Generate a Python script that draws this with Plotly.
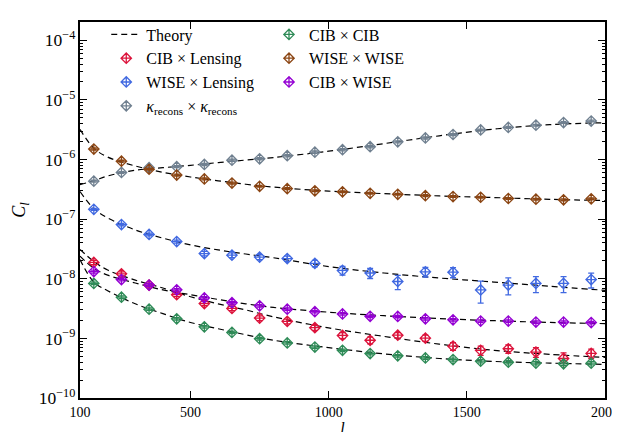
import plotly.graph_objects as go

# multipole bins
ell = [150, 250, 350, 450, 550, 650, 750, 850, 950, 1050,
       1150, 1250, 1350, 1450, 1550, 1650, 1750, 1850, 1950]

cib_lens = [1.88e-8, 1.21e-8, 7.85e-9, 5.41e-9, 3.83e-9, 3.18e-9, 2.19e-9, 1.93e-9, 1.51e-9, 1.12e-9,
            9.3e-10, 1.13e-9, 1.01e-9, 7.4e-10, 6.3e-10, 6.7e-10, 5.9e-10, 4.6e-10, 5.6e-10]
cib_lens_err = [1.5e-9, 1.0e-9, 6e-10, 4e-10, 3e-10, 2.5e-10, 2e-10, 1.8e-10, 1.5e-10, 1.3e-10,
                1.2e-10, 1.2e-10, 1.2e-10, 1.1e-10, 1.1e-10, 1.1e-10, 1.1e-10, 1.1e-10, 1.0e-10]

wise_lens = [1.46e-7, 8.11e-8, 5.53e-8, 4.20e-8, 2.65e-8, 2.49e-8, 2.31e-8, 2.18e-8, 1.81e-8, 1.38e-8,
             1.25e-8, 9.0e-9, 1.31e-8, 1.29e-8, 6.5e-9, 7.85e-9, 8.36e-9, 8.36e-9, 9.7e-9]
wise_lens_err = [6e-9, 4e-9, 3e-9, 2.5e-9, 2.2e-9, 2.2e-9, 2.2e-9, 2.2e-9, 2.2e-9, 2.3e-9,
                 2.4e-9, 2.4e-9, 2.4e-9, 2.5e-9, 2.6e-9, 2.5e-9, 2.5e-9, 2.5e-9, 2.7e-9]

kappa = [4.34e-7, 6.07e-7, 7.31e-7, 7.59e-7, 8.26e-7, 9.74e-7, 1.03e-6, 1.16e-6, 1.33e-6, 1.46e-6,
         1.64e-6, 1.98e-6, 2.30e-6, 2.63e-6, 3.13e-6, 3.46e-6, 3.77e-6, 4.17e-6, 4.42e-6]
kappa_err = [1.5e-8, 2e-8, 2.5e-8, 3e-8, 3.5e-8, 4e-8, 4.5e-8, 5e-8, 6e-8, 6.5e-8,
             7e-8, 8e-8, 9e-8, 1e-7, 1.1e-7, 1.2e-7, 1.3e-7, 1.4e-7, 1.5e-7]

cib_cib = [8.36e-9, 4.91e-9, 3.09e-9, 2.13e-9, 1.56e-9, 1.26e-9, 9.89e-10, 8.39e-10, 7.15e-10, 6.32e-10,
           5.57e-10, 5.11e-10, 4.69e-10, 4.41e-10, 4.14e-10, 3.98e-10, 3.84e-10, 3.75e-10, 3.84e-10]
cib_cib_err = [4e-10, 2.5e-10, 1.5e-10, 1e-10, 7e-11, 6e-11, 5e-11, 4e-11, 3.5e-11, 3e-11,
               3e-11, 2.5e-11, 2.5e-11, 2.5e-11, 2.5e-11, 2.5e-11, 2.5e-11, 2.5e-11, 2.5e-11]

wise_wise = [1.50e-6, 9.37e-7, 6.87e-7, 5.49e-7, 4.73e-7, 4.03e-7, 3.56e-7, 3.25e-7, 2.99e-7, 2.88e-7,
             2.71e-7, 2.61e-7, 2.48e-7, 2.39e-7, 2.33e-7, 2.22e-7, 2.16e-7, 2.11e-7, 2.19e-7]
wise_wise_err = [6e-8, 3.5e-8, 2.5e-8, 2e-8, 1.7e-8, 1.4e-8, 1.2e-8, 1.1e-8, 1.0e-8, 1.0e-8,
                 9e-9, 9e-9, 8.5e-9, 8e-9, 8e-9, 8e-9, 7.5e-9, 7.5e-9, 7.5e-9]

cib_wise = [1.32e-8, 9.7e-9, 7.85e-9, 6.52e-9, 4.78e-9, 3.97e-9, 3.51e-9, 3.09e-9, 2.81e-9, 2.57e-9,
            2.35e-9, 2.33e-9, 2.13e-9, 2.05e-9, 1.95e-9, 1.95e-9, 1.88e-9, 1.88e-9, 1.84e-9]
cib_wise_err = [8e-10, 5e-10, 4e-10, 3e-10, 2.5e-10, 2e-10, 1.7e-10, 1.5e-10, 1.3e-10, 1.2e-10,
                1.1e-10, 1.1e-10, 1e-10, 1e-10, 9e-11, 9e-11, 9e-11, 9e-11, 9e-11]

# theory curves
ell_th = [100, 150, 200, 300, 400, 500, 600, 700, 800, 1000, 1200, 1400, 1600, 1800, 2000]
th_kappa = [3.8e-7, 4.4e-7, 5.3e-7, 6.6e-7, 7.3e-7, 8.0e-7, 8.9e-7, 9.8e-7, 1.08e-6, 1.38e-6,
            1.85e-6, 2.5e-6, 3.25e-6, 3.85e-6, 4.15e-6]
th_wise_wise = [3.2e-6, 1.55e-6, 1.1e-6, 7.8e-7, 6.1e-7, 5.1e-7, 4.4e-7, 3.85e-7, 3.45e-7, 2.95e-7,
                2.68e-7, 2.45e-7, 2.3e-7, 2.15e-7, 2.05e-7]
th_wise_lens = [2.9e-7, 1.5e-7, 1.05e-7, 6.6e-8, 4.8e-8, 3.7e-8, 3.05e-8, 2.6e-8, 2.25e-8, 1.6e-8,
                1.25e-8, 1.03e-8, 8.8e-9, 7.5e-9, 6.4e-9]
th_cib_lens = [3.1e-8, 1.95e-8, 1.4e-8, 9.5e-9, 7.0e-9, 5.0e-9, 3.8e-9, 3.0e-9, 2.3e-9, 1.5e-9,
               1.08e-9, 8.0e-10, 6.3e-10, 5.4e-10, 4.8e-10]
th_cib_wise = [2.4e-8, 1.5e-8, 1.15e-8, 8.5e-9, 6.5e-9, 5.4e-9, 4.5e-9, 3.8e-9, 3.3e-9, 2.75e-9,
               2.4e-9, 2.15e-9, 1.98e-9, 1.85e-9, 1.77e-9]
th_cib_cib = [2.1e-8, 8.8e-9, 6.3e-9, 3.8e-9, 2.6e-9, 1.85e-9, 1.45e-9, 1.15e-9, 9.3e-10, 7.0e-10,
              5.5e-10, 4.6e-10, 4.1e-10, 3.85e-10, 3.66e-10]

FONT = "'Liberation Serif', 'DejaVu Serif', serif"

fig = go.Figure()

theory = [th_kappa, th_wise_wise, th_wise_lens, th_cib_lens, th_cib_wise, th_cib_cib]
for i, th in enumerate(theory):
    fig.add_trace(go.Scatter(
        x=ell_th, y=th, mode="lines", name="Theory",
        line=dict(color="black", width=1.2, dash="6px,4px", shape="spline"),
        showlegend=(i == 0), legend="legend", hoverinfo="skip"))

series = [
    ("CIB × Lensing", cib_lens, cib_lens_err, "#DC143C", "legend"),
    ("WISE × Lensing", wise_lens, wise_lens_err, "#4169E1", "legend"),
    ("<i>κ</i><sub>recons</sub> × <i>κ</i><sub>recons</sub>", kappa, kappa_err, "#708090", "legend"),
    ("CIB × CIB", cib_cib, cib_cib_err, "#2E8B57", "legend2"),
    ("WISE × WISE", wise_wise, wise_wise_err, "#8B4513", "legend2"),
    ("CIB × WISE", cib_wise, cib_wise_err, "#9400D3", "legend2"),
]
for name, y, err, col, leg in series:
    fig.add_trace(go.Scatter(
        x=ell, y=y, mode="markers", name=name, legend=leg,
        marker=dict(symbol="diamond-cross-open", size=8, color=col, line=dict(width=1.3, color=col)),
        error_y=dict(type="data", array=err, visible=True, color=col, thickness=1.3, width=3)))

axis_common = dict(showline=True, linecolor="black", linewidth=1.8, mirror="ticks",
                   ticks="inside", tickcolor="black", showgrid=False, zeroline=False,
                   tickfont=dict(family=FONT, size=14, color="black"))

fig.update_layout(
    width=620, height=432,
    margin=dict(l=72, r=23, t=9, b=33),
    paper_bgcolor="white", plot_bgcolor="white",
    font=dict(family=FONT, color="black"),
    xaxis=dict(range=[100, 2000], tickvals=[100, 500, 1000, 1500, 2000], ticklen=7,
               title=dict(text="<i>l</i>", font=dict(size=16, family=FONT), standoff=0),
               **axis_common),
    yaxis=dict(type="log", range=[-10, -3.693], dtick=1, exponentformat="power", ticklen=7,
               minor=dict(ticks="inside", ticklen=3, tickcolor="black", showgrid=False),
               title=dict(text="<i>C<sub>l</sub></i>", font=dict(size=18, family=FONT), standoff=8),
               **axis_common),
    legend=dict(x=0.05, y=1.012, xanchor="left", yanchor="top", bgcolor="rgba(0,0,0,0)",
                font=dict(family=FONT, size=16, color="black"), tracegroupgap=0),
    legend2=dict(x=0.36, y=1.012, xanchor="left", yanchor="top", bgcolor="rgba(0,0,0,0)",
                 font=dict(family=FONT, size=16, color="black"), tracegroupgap=0),
)

fig.write_html("out.html")
